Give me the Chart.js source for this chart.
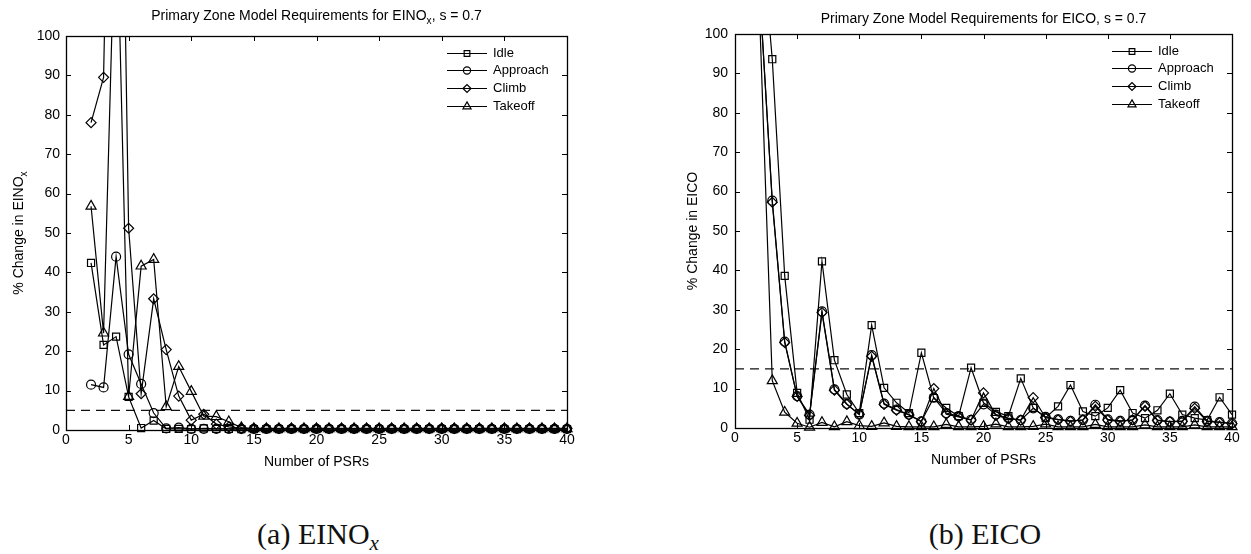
<!DOCTYPE html>
<html>
<head>
<meta charset="utf-8">
<script src="https://cdn.jsdelivr.net/npm/chart.js@4.4.1/dist/chart.umd.min.js"></script>
<style>
  body { margin: 0; background: #fff; width: 1251px; height: 554px; overflow: hidden; position: relative; }
  canvas { position: absolute; top: 0; }
  #noxChart { left: 0; }
  #coChart { left: 626px; }
  .cap { position: absolute; top: 514px; width: 300px; text-align: center; font: 30px "Liberation Serif", serif; line-height: 40px; color: #111; }
  .cap sub { font-style: italic; font-size: 21px; vertical-align: -6px; }
</style>
</head>
<body>
<canvas id="noxChart" width="626" height="480"></canvas>
<canvas id="coChart" width="625" height="480"></canvas>
<div class="cap" style="left:168px">(a) EINO<sub>x</sub></div>
<div class="cap" style="left:835px">(b) EICO</div>
<script>
// number of PSRs (x values)
const psrs = [2, 3, 4, 5, 6, 7, 8, 9, 10, 11, 12, 13, 14, 15, 16, 17, 18, 19, 20, 21,
  22, 23, 24, 25, 26, 27, 28, 29, 30, 31, 32, 33, 34, 35, 36, 37, 38, 39, 40];

// % change in EINOx
const noxIdle = [42.4, 21.6, 23.7, 8.4, 0.5, 2.4, 0.3, 0.3, 0.2, 0.4, 0.3, 0.3,
  0.2, 0.2, 0.2, 0.2, 0.2, 0.2, 0.2, 0.2, 0.2, 0.2, 0.2, 0.2, 0.2, 0.2,
  0.2, 0.2, 0.2, 0.2, 0.2, 0.2, 0.2, 0.2, 0.2, 0.2, 0.2, 0.2, 0.2];
const noxApproach = [11.5, 10.8, 44.0, 19.2, 11.7, 4.3, 0.4, 0.6, 0.3, 0.3, 0.3, 0.3,
  0.3, 0.3, 0.3, 0.3, 0.3, 0.3, 0.3, 0.3, 0.3, 0.3, 0.3, 0.3, 0.3, 0.3,
  0.3, 0.3, 0.3, 0.3, 0.3, 0.3, 0.3, 0.3, 0.3, 0.3, 0.3, 0.3, 0.3];
const noxClimb = [78.0, 89.5, 250, 51.2, 9.2, 33.3, 20.4, 8.6, 2.5, 4.0, 1.5, 0.8,
  0.4, 0.4, 0.4, 0.4, 0.4, 0.4, 0.4, 0.4, 0.4, 0.4, 0.4, 0.4, 0.4, 0.4,
  0.4, 0.4, 0.4, 0.4, 0.4, 0.4, 0.4, 0.4, 0.4, 0.4, 0.4, 0.4, 0.4];
const noxTakeoff = [56.8, 24.6, 140, 8.5, 41.6, 43.3, 5.9, 16.1, 9.8, 3.5, 3.4, 2.1,
  0.6, 0.3, 0.3, 0.3, 0.3, 0.3, 0.3, 0.3, 0.3, 0.3, 0.3, 0.3, 0.3, 0.3,
  0.3, 0.3, 0.3, 0.3, 0.3, 0.3, 0.3, 0.3, 0.3, 0.3, 0.3, 0.3, 0.3];
const noxLimit = 5;

// % change in EICO
const coIdle = [130, 93.6, 38.6, 8.9, 2.1, 42.3, 17.2, 8.5, 3.8, 26.1, 10.2, 6.4, 3.8,
  19.1, 7.6, 5.1, 3.0, 15.3, 6.4, 4.1, 3.0, 12.6, 5.1, 2.6, 5.5, 10.9, 4.2,
  3.0, 5.1, 9.6, 3.8, 2.5, 4.5, 8.7, 3.4, 2.5, 2.0, 7.8, 3.4];
const coApproach = [110, 57.7, 21.9, 8.1, 3.4, 29.6, 9.8, 6.1, 3.4, 18.5, 6.2, 4.7, 3.4,
  1.7, 7.7, 3.8, 3.0, 2.1, 6.0, 3.4, 2.5, 2.0, 5.0, 2.8, 2.2, 1.8, 2.0,
  5.9, 2.2, 1.8, 2.0, 5.7, 2.0, 1.6, 1.8, 5.4, 1.8, 1.5, 1.2];
const coClimb = [110, 57.3, 21.7, 8.0, 3.2, 29.3, 9.6, 6.0, 3.5, 18.2, 6.0, 4.5, 3.3,
  1.6, 10.0, 3.5, 2.8, 2.0, 8.9, 3.2, 2.4, 2.0, 7.7, 2.6, 2.1, 1.7, 2.1,
  5.5, 2.0, 1.7, 2.1, 5.5, 1.9, 1.6, 1.7, 5.0, 1.7, 1.4, 1.1];
const coTakeoff = [103, 12.0, 4.0, 1.2, 0.2, 1.4, 0.3, 1.6, 0.6, 0.4, 1.3, 0.4, 0.3,
  0.3, 0.3, 0.9, 0.3, 0.3, 0.4, 1.0, 0.3, 0.3, 0.4, 1.0, 0.3, 0.3, 0.3,
  0.9, 0.3, 0.3, 0.3, 0.8, 0.3, 0.3, 0.3, 0.8, 0.3, 0.3, 0.3];
const coLimit = 15;

const seriesNames = ['Idle', 'Approach', 'Climb', 'Takeoff'];
const markers = [['rect', 5], ['circle', 4.5], ['rectRot', 5], ['triangle', 5.8]];

const FONT = '"Liberation Sans", Arial, sans-serif';
Chart.defaults.font.family = FONT;
Chart.defaults.font.size = 14;
Chart.defaults.color = '#000';

function pts(vals) {
  return psrs.map((p, i) => ({x: p, y: vals[i]}));
}

// text with an optional subscript part, centred on (x, y)
function rich(ctx, parts, x, y, size, rot) {
  ctx.save();
  ctx.translate(x, y);
  if (rot) ctx.rotate(rot);
  ctx.textBaseline = 'alphabetic';
  ctx.textAlign = 'left';
  ctx.fillStyle = '#000';
  let w = 0;
  parts.forEach(p => {
    ctx.font = (p[1] ? size * 0.72 : size) + 'px ' + FONT;
    w += ctx.measureText(p[0]).width;
  });
  let cx = -w / 2;
  parts.forEach(p => {
    ctx.font = (p[1] ? size * 0.72 : size) + 'px ' + FONT;
    ctx.fillText(p[0], cx, p[1] ? size * 0.3 : 0);
    cx += ctx.measureText(p[0]).width;
  });
  ctx.restore();
}

function marker(ctx, style, r, x, y) {
  if (Chart.helpers && Chart.helpers.drawPoint) {
    Chart.helpers.drawPoint(ctx, {pointStyle: style, radius: r, rotation: 0, borderWidth: 1.2}, x, y);
    return;
  }
  ctx.beginPath();
  ctx.arc(x, y, r, 0, Math.PI * 2);
  ctx.stroke();
}

const frame = {
  id: 'frame',
  afterDatasetsDraw(chart, args, o) {
    const {ctx, chartArea: a} = chart;
    const xs = chart.scales.x, ys = chart.scales.y;
    ctx.save();
    ctx.strokeStyle = '#000';
    ctx.lineWidth = 1.3;
    ctx.setLineDash([]);
    ctx.strokeRect(a.left + 0.5, a.top + 0.5, a.right - a.left, a.bottom - a.top);
    ctx.lineWidth = 1;
    ctx.beginPath();
    xs.ticks.forEach(t => {
      const px = Math.round(xs.getPixelForValue(t.value)) + 0.5;
      ctx.moveTo(px, a.bottom); ctx.lineTo(px, a.bottom - 5);
      ctx.moveTo(px, a.top); ctx.lineTo(px, a.top + 5);
    });
    ys.ticks.forEach(t => {
      const py = Math.round(ys.getPixelForValue(t.value)) + 0.5;
      ctx.moveTo(a.left, py); ctx.lineTo(a.left + 5, py);
      ctx.moveTo(a.right, py); ctx.lineTo(a.right - 5, py);
    });
    ctx.stroke();

    // legend: line with marker, then label
    chart.data.datasets.slice(0, 4).forEach((ds, i) => {
      const ly = Math.round(a.top + 16.5 + 17.8 * i) + 0.5;
      const lx = a.right - 120;
      ctx.strokeStyle = '#000';
      ctx.lineWidth = 1.2;
      ctx.beginPath();
      ctx.moveTo(lx, ly); ctx.lineTo(lx + 40, ly);
      ctx.stroke();
      ctx.fillStyle = 'rgba(0,0,0,0)';
      marker(ctx, ds.pointStyle, ds.pointRadius * 0.8, lx + 20, ly);
      ctx.fillStyle = '#000';
      ctx.font = '13px ' + FONT;
      ctx.textBaseline = 'middle';
      ctx.textAlign = 'left';
      ctx.fillText(ds.label, lx + 46, ly);
    });

    const mid = (a.left + a.right) / 2;
    rich(ctx, o.title, mid, o.titleY, 14, 0);
    rich(ctx, o.ylabel, o.ylabelX, (a.top + a.bottom) / 2, 14, -Math.PI / 2);
    rich(ctx, [[o.xlabel, false]], mid, o.xlabelY, 14, 0);
    ctx.restore();
  }
};

function makeChart(id, series, limit, cfg) {
  const datasets = series.map((vals, i) => ({
    label: seriesNames[i],
    data: pts(vals),
    borderColor: '#000',
    borderWidth: 1.2,
    pointStyle: markers[i][0],
    pointRadius: markers[i][1],
    pointBorderColor: '#000',
    pointBorderWidth: 1.2,
    pointBackgroundColor: 'rgba(0,0,0,0)',
    tension: 0,
    clip: {left: 8, top: 0, right: 8, bottom: 8}
  }));
  datasets.push({
    label: 'limit',
    data: [{x: 0, y: limit}, {x: 40, y: limit}],
    borderColor: '#111',
    borderWidth: 1.2,
    borderDash: [9, 6],
    pointRadius: 0
  });

  return new Chart(document.getElementById(id), {
    type: 'line',
    data: {datasets: datasets},
    options: {
      responsive: false,
      animation: false,
      layout: {padding: {left: 0, right: cfg.padRight, top: cfg.top, bottom: 0}},
      plugins: {
        legend: {display: false},
        tooltip: {enabled: false},
        frame: cfg.text
      },
      scales: {
        x: {
          type: 'linear', min: 0, max: 40,
          ticks: {stepSize: 5, padding: 2},
          grid: {display: false, drawTicks: false},
          border: {display: false},
          afterFit: s => { s.height = cfg.xHeight; }
        },
        y: {
          min: 0, max: 100,
          ticks: {stepSize: 10, padding: cfg.yPad},
          grid: {display: false, drawTicks: false},
          border: {display: false},
          afterFit: s => { s.width = cfg.yWidth; }
        }
      }
    },
    plugins: [frame]
  });
}

makeChart('noxChart', [noxIdle, noxApproach, noxClimb, noxTakeoff], noxLimit, {
  top: 36, xHeight: 50, yWidth: 66, padRight: 59, yPad: 6,
  text: {
    title: [['Primary Zone Model Requirements for EINO', false], ['x', true], [', s = 0.7', false]],
    titleY: 19.5,
    ylabel: [['% Change in EINO', false], ['x', true]],
    ylabelX: 23,
    xlabel: 'Number of PSRs',
    xlabelY: 466
  }
});

makeChart('coChart', [coIdle, coApproach, coClimb, coTakeoff], coLimit, {
  top: 34, xHeight: 52, yWidth: 109, padRight: 19, yPad: 7,
  text: {
    title: [['Primary Zone Model Requirements for EICO, s = 0.7', false]],
    titleY: 22.5,
    ylabel: [['% Change in EICO', false]],
    ylabelX: 71,
    xlabel: 'Number of PSRs',
    xlabelY: 464
  }
});
</script>
</body>
</html>
